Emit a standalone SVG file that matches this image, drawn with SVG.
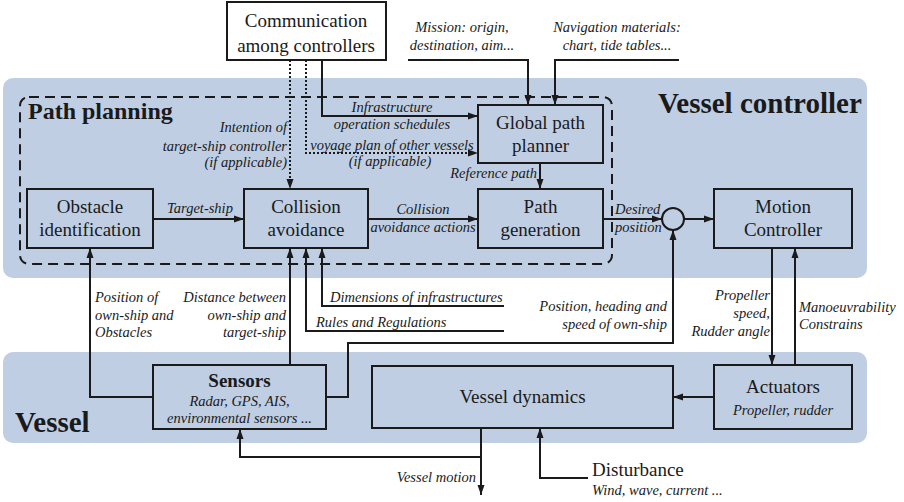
<svg xmlns="http://www.w3.org/2000/svg" width="904" height="502" viewBox="0 0 904 502">
<defs>
<marker id="ah" markerUnits="userSpaceOnUse" markerWidth="10" markerHeight="8" refX="10" refY="4" orient="auto">
<path d="M0,0.5 L10,4 L0,7.5 z" fill="#1a1a1a"/>
</marker>
<style>
.bg{fill:#bfcee3;}
.box{fill:#bfcee3;stroke:#1a1a1a;stroke-width:2;}
.wbox{fill:#ffffff;stroke:#1a1a1a;stroke-width:2;}
.c{fill:none;stroke:#1a1a1a;stroke-width:2;}
.a{marker-end:url(#ah);}
.d{stroke-dasharray:2 2;}
.t{font-family:"Liberation Serif","Times New Roman",serif;font-size:19px;fill:#1a1a1a;text-anchor:middle;}
.b{font-family:"Liberation Serif","Times New Roman",serif;font-weight:bold;fill:#1a1a1a;}
.i{font-family:"Liberation Serif","Times New Roman",serif;font-style:italic;font-size:14.5px;fill:#1a1a1a;}
.m{text-anchor:middle;}
.e{text-anchor:end;}
</style>
</defs>
<rect class="bg" x="3" y="78" width="864" height="200" rx="10"/>
<rect class="bg" x="3" y="352" width="864" height="91" rx="10"/>
<text class="b" x="658" y="113" font-size="29">Vessel controller</text>
<text class="b" x="15" y="432" font-size="29">Vessel</text>
<g id="path-planning">
<rect x="20" y="97" width="592" height="167" rx="9" fill="none" stroke="#1a1a1a" stroke-width="2" stroke-dasharray="10 6"/>
<text class="b" x="28" y="119" font-size="24">Path planning</text>
</g>
<g id="communication">
<rect class="wbox" x="227" y="2" width="159" height="58"/>
<text class="t" x="306" y="27">Communication</text>
<text class="t" x="306" y="52">among controllers</text>
</g>
<g id="global-path-planner">
<rect class="box" x="478" y="105" width="125" height="58"/>
<text class="t" x="540.5" y="129">Global path</text>
<text class="t" x="540.5" y="152">planner</text>
</g>
<g id="obstacle-identification">
<rect class="box" x="27" y="189" width="126" height="59"/>
<text class="t" x="90" y="213">Obstacle</text>
<text class="t" x="90" y="236">identification</text>
</g>
<g id="collision-avoidance">
<rect class="box" x="244" y="189" width="124" height="59"/>
<text class="t" x="306" y="213">Collision</text>
<text class="t" x="306" y="236">avoidance</text>
</g>
<g id="path-generation">
<rect class="box" x="478" y="189" width="125" height="59"/>
<text class="t" x="540.5" y="213">Path</text>
<text class="t" x="540.5" y="236">generation</text>
</g>
<g id="sum">
<circle cx="673" cy="219" r="11" fill="#bfcee3" stroke="#1a1a1a" stroke-width="2"/>
</g>
<g id="motion-controller">
<rect class="box" x="714" y="189" width="138" height="59"/>
<text class="t" x="783" y="213">Motion</text>
<text class="t" x="783" y="236">Controller</text>
</g>
<g id="sensors">
<rect class="box" x="153" y="365" width="173" height="64"/>
<text class="b m" x="239.5" y="387" font-size="19">Sensors</text>
<text class="i m" x="239.5" y="406">Radar, GPS, AIS,</text>
<text class="i m" x="239.5" y="423">environmental sensors ...</text>
</g>
<g id="vessel-dynamics">
<rect class="box" x="372" y="366" width="301" height="62"/>
<text class="t" x="522.5" y="403">Vessel dynamics</text>
</g>
<g id="actuators">
<rect class="box" x="714" y="365" width="138" height="64"/>
<text class="t" x="783" y="393">Actuators</text>
<text class="i m" x="783" y="415">Propeller, rudder</text>
</g>
<g id="disturbance">
<text class="t" x="592" y="476" style="text-anchor:start">Disturbance</text>
<text class="i" x="592" y="495">Wind, wave, current ...</text>
</g>
<g id="connectors">
<path class="c a d" d="M290,60 V189"/>
<path class="c a d" d="M306,60 V153 H478"/>
<path class="c a" d="M322,60 V116 H478"/>
<path class="c a" d="M408,60 H528 V105"/>
<path class="c a" d="M679,60 H555 V105"/>
<path class="c a" d="M540,163 V189"/>
<path class="c a" d="M153,219 H244"/>
<path class="c a" d="M368,219 H478"/>
<path class="c a" d="M603,219 H662"/>
<path class="c a" d="M684,219 H714"/>
<path class="c a" d="M772,248 V365"/>
<path class="c a" d="M795,365 V248"/>
<path class="c a" d="M714,397 H673"/>
<path class="c a" d="M153,397 H90 V248"/>
<path class="c a" d="M290,365 V248"/>
<path class="c a" d="M504,306 H322 V248"/>
<path class="c a" d="M504,331 H306 V248"/>
<path class="c a" d="M326,397 H348 V343 H673 V230"/>
<path class="c a" d="M481,428 V495"/>
<path class="c a" d="M481,457 H240 V429"/>
<path class="c a" d="M588,478 H540 V428"/>
<text class="i m" x="462" y="32">Mission: origin,</text>
<text class="i m" x="462" y="50">destination, aim...</text>
<text class="i m" x="617" y="32">Navigation materials:</text>
<text class="i m" x="617" y="50">chart, tide tables...</text>
<text class="i e" x="287" y="132">Intention of</text>
<text class="i e" x="287" y="151">target-ship controller</text>
<text class="i e" x="287" y="167">(if applicable)</text>
<text class="i m" x="392" y="112">Infrastructure</text>
<text class="i m" x="392" y="129">operation schedules</text>
<text class="i m" x="392" y="150">voyage plan of other vessels</text>
<text class="i m" x="390" y="166">(if applicable)</text>
<text class="i e" x="537" y="178">Reference path</text>
<text class="i m" x="200" y="213">Target-ship</text>
<text class="i m" x="423" y="214">Collision</text>
<text class="i m" x="423" y="232">avoidance actions</text>
<text class="i" x="615" y="214">Desired</text>
<text class="i" x="615" y="232">position</text>
<text class="i" x="95" y="302">Position of</text>
<text class="i" x="95" y="320">own-ship and</text>
<text class="i" x="95" y="337">Obstacles</text>
<text class="i e" x="286" y="302">Distance between</text>
<text class="i e" x="286" y="320">own-ship and</text>
<text class="i e" x="286" y="337">target-ship</text>
<text class="i" x="330" y="302">Dimensions of infrastructures</text>
<text class="i" x="316" y="327">Rules and Regulations</text>
<text class="i e" x="667" y="311">Position, heading and</text>
<text class="i e" x="667" y="329">speed of own-ship</text>
<text class="i e" x="770" y="300">Propeller</text>
<text class="i e" x="770" y="318">speed,</text>
<text class="i e" x="770" y="336">Rudder angle</text>
<text class="i" x="799" y="312">Manoeuvrability</text>
<text class="i" x="799" y="329">Constrains</text>
<text class="i e" x="476" y="482">Vessel motion</text>
</g>
</svg>
